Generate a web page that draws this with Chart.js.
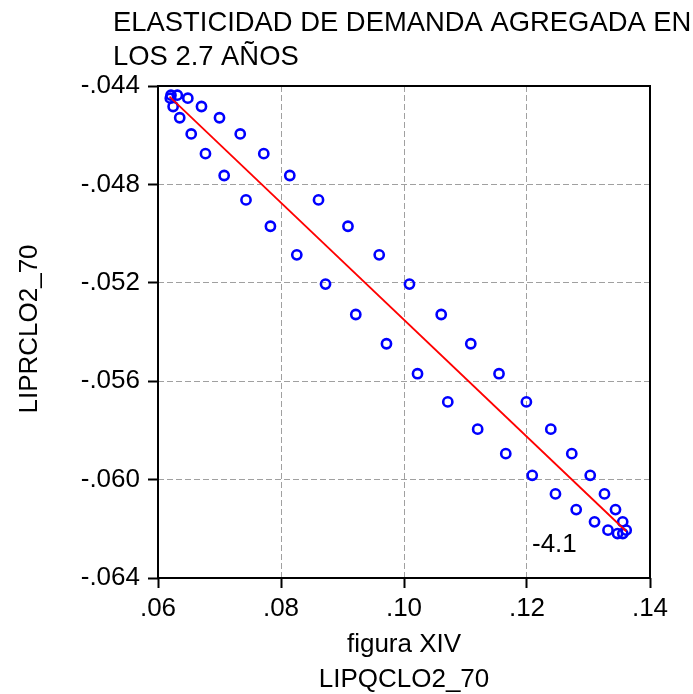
<!DOCTYPE html>
<html>
<head>
<meta charset="utf-8">
<script src="https://cdn.jsdelivr.net/npm/chart.js@4/dist/chart.umd.min.js"></script>
<style>
  html, body { margin: 0; padding: 0; background: #ffffff; }
  canvas { display: block; }
</style>
</head>
<body>
<canvas id="chart" width="693" height="694"></canvas>
<script>
// Text shown around the plot
const titleLines = ['ELASTICIDAD DE DEMANDA AGREGADA EN', 'LOS 2.7 AÑOS'];
const xTitleLines = ['figura XIV', 'LIPQCLO2_70'];
const yTitle = 'LIPRCLO2_70';
const slopeLabel = '-4.1';

// Observations: LIPQCLO2_70 (x) against LIPRCLO2_70 (y)
const lipqclo = [
  0.06211, 0.06314, 0.06200, 0.06485, 0.06246, 0.06707, 0.06353, 0.07000,
  0.06540, 0.07337, 0.06772, 0.07720, 0.07076, 0.08143, 0.07431, 0.08610,
  0.07828, 0.09089, 0.08257, 0.09597, 0.08724, 0.10089, 0.09216, 0.10605,
  0.09715, 0.11086, 0.10220, 0.11545, 0.10712, 0.11990, 0.11198, 0.12387,
  0.11655, 0.12728, 0.12085, 0.13028, 0.12463, 0.13260, 0.12800, 0.13439,
  0.13098, 0.13556, 0.13317, 0.13613, 0.13472, 0.13558
];
const liprclo = [
  -0.044374, -0.044374, -0.044495, -0.044495, -0.044833, -0.044833, -0.045291, -0.045291,
  -0.045949, -0.045949, -0.046749, -0.046749, -0.047639, -0.047639, -0.048630, -0.048630,
  -0.049702, -0.049702, -0.050863, -0.050863, -0.052053, -0.052053, -0.053288, -0.053288,
  -0.054477, -0.054477, -0.055696, -0.055696, -0.056841, -0.056841, -0.057950, -0.057950,
  -0.058945, -0.058945, -0.059826, -0.059826, -0.060581, -0.060581, -0.061219, -0.061219,
  -0.061718, -0.061718, -0.062055, -0.062055, -0.062193, -0.062193
];

// Fitted regression line, end points
const fitX = [0.06187, 0.13613];
const fitY = [-0.04443, -0.06210];

// Axis ticks
const xTicks = [0.06, 0.08, 0.10, 0.12, 0.14];
const yTicks = [-0.064, -0.060, -0.056, -0.052, -0.048, -0.044];

const FONT = 'Liberation Sans, Arial, sans-serif';

const scatterPoints = lipqclo.map((x, i) => ({ x: x, y: liprclo[i] }));
const fitPoints = fitX.map((x, i) => ({ x: x, y: fitY[i] }));

// Strip the leading zero the way the axis labels are printed (".06", "-.044")
const trimZero = (v, digits) => v.toFixed(digits).replace('0.', '.');

const decorations = {
  id: 'decorations',
  afterDraw(chart) {
    const ctx = chart.ctx;
    const a = chart.chartArea;
    ctx.save();

    // Frame round the plot
    ctx.strokeStyle = '#000000';
    ctx.lineWidth = 2;
    ctx.setLineDash([]);
    ctx.strokeRect(a.left, a.top, a.right - a.left, a.bottom - a.top);

    ctx.fillStyle = '#000000';
    ctx.textAlign = 'left';
    ctx.textBaseline = 'alphabetic';

    // Title, two lines
    ctx.font = '27.4px ' + FONT;
    ctx.fillText(titleLines[0], 113, 31);
    ctx.fillText(titleLines[1], 113, 65);

    // Slope label near the end of the fitted line
    ctx.font = '26px ' + FONT;
    ctx.fillText(slopeLabel, 532, 552);

    // X axis title, two centred lines
    ctx.textAlign = 'center';
    const cx = (a.left + a.right) / 2;
    ctx.fillText(xTitleLines[0], cx, 652);
    ctx.fillText(xTitleLines[1], cx, 687);

    // Y axis title, rotated
    ctx.translate(37, (a.top + a.bottom) / 2 - 3);
    ctx.rotate(-Math.PI / 2);
    ctx.fillText(yTitle, 0, 0);

    ctx.restore();
  }
};

const gridStyle = {
  color: '#a0a0a0',
  lineWidth: 1,
  tickLength: 10,
  tickColor: '#000000',
  tickWidth: 2,
  tickBorderDash: []
};

new Chart(document.getElementById('chart'), {
  type: 'scatter',
  data: {
    datasets: [
      {
        label: 'LIPRCLO2_70',
        data: scatterPoints,
        showLine: false,
        pointStyle: 'circle',
        pointRadius: 4.6,
        pointBorderWidth: 2.6,
        pointBorderColor: '#0000ff',
        pointBackgroundColor: 'rgba(0,0,0,0)',
        order: 2
      },
      {
        label: 'fit',
        data: fitPoints,
        showLine: true,
        borderColor: '#ff0000',
        borderWidth: 1.8,
        pointRadius: 0,
        fill: false,
        order: 1
      }
    ]
  },
  options: {
    responsive: false,
    devicePixelRatio: 1,
    animation: false,
    layout: { padding: { left: 0, top: 86, right: 43, bottom: 0 } },
    elements: {
      point: { radius: 4.6, borderWidth: 2.6, hoverBorderWidth: 2.6 }
    },
    plugins: {
      legend: { display: false },
      tooltip: { enabled: false },
      title: { display: false }
    },
    scales: {
      x: {
        type: 'linear',
        min: 0.06,
        max: 0.14,
        afterBuildTicks: s => { s.ticks = xTicks.map(v => ({ value: v })); },
        afterFit: s => { s.height = 116; },
        grid: gridStyle,
        border: { display: false, dash: [6, 3] },
        ticks: {
          color: '#000000',
          font: { family: FONT, size: 26 },
          padding: 5,
          maxRotation: 0,
          autoSkip: false,
          callback: v => trimZero(v, 2)
        }
      },
      y: {
        type: 'linear',
        min: -0.064,
        max: -0.044,
        afterBuildTicks: s => { s.ticks = yTicks.map(v => ({ value: v })); },
        afterFit: s => { s.width = 158; },
        grid: gridStyle,
        border: { display: false, dash: [6, 3] },
        ticks: {
          color: '#000000',
          font: { family: FONT, size: 26 },
          padding: 8,
          autoSkip: false,
          callback: v => trimZero(v, 3)
        }
      }
    }
  },
  plugins: [decorations]
});
</script>
</body>
</html>
